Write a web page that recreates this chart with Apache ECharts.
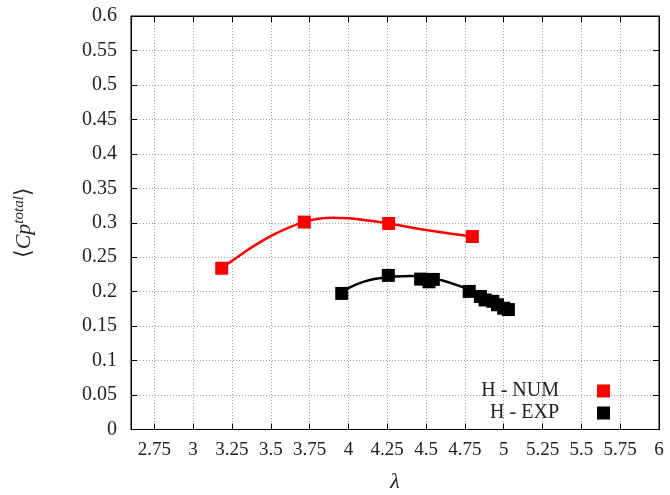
<!DOCTYPE html>
<html><head><meta charset="utf-8">
<script src="https://cdn.jsdelivr.net/npm/echarts@6/dist/echarts.min.js"></script>
<style>html,body{margin:0;padding:0;background:#fff}#c{width:670px;height:495px}</style>
</head><body><div id="c"></div>
<script>
// tick labels on the lambda axis
const xTicks = [2.75, 3, 3.25, 3.5, 3.75, 4, 4.25, 4.5, 4.75, 5, 5.25, 5.5, 5.75, 6];
// H - NUM markers
const numLambda = [3.184, 3.716, 4.259, 4.798];
const numCp = [0.234, 0.301, 0.299, 0.280];
// H - NUM fitted curve
const numFitLambda = [3.184, 3.3, 3.4, 3.5, 3.6, 3.716, 3.8, 3.9, 4.0, 4.1, 4.259, 4.5, 4.798];
const numFitCp = [0.234, 0.2525, 0.2675, 0.2805, 0.2915, 0.3013, 0.3055, 0.3072, 0.3065, 0.304, 0.299, 0.2895, 0.280];
// H - EXP markers
const expLambda = [3.957, 4.257, 4.465, 4.519, 4.547, 4.778, 4.85, 4.88, 4.93, 4.96, 5.0, 5.03];
const expCp = [0.1975, 0.2236, 0.2182, 0.2143, 0.2178, 0.2004, 0.193, 0.188, 0.186, 0.181, 0.176, 0.174];
// H - EXP fitted curve
const expFitLambda = [3.957, 4.0, 4.1, 4.2, 4.3, 4.4, 4.5, 4.6, 4.7, 4.8, 4.9, 5.03];
const expFitCp = [0.1975, 0.205, 0.2145, 0.2195, 0.222, 0.2226, 0.221, 0.2165, 0.2095, 0.201, 0.191, 0.175];

const FONT = 'Liberation Serif';
const TXT = '#222';
const zip = (a, b) => a.map((v, i) => [v, b[i]]);

const chart = echarts.init(document.getElementById('c'));
const gridLine = { show: true, lineStyle: { color: '#a0a0a0', type: [1, 2], width: 1 } };
chart.setOption({
  animation: false,
  backgroundColor: '#fff',
  grid: { left: 131, top: 16, right: 11, bottom: 65.5, containLabel: false, outerBoundsMode: 'none',
    show: true, borderColor: '#000', borderWidth: 1, backgroundColor: 'transparent' },
  legend: {
    orient: 'vertical', right: 55, top: 376, itemWidth: 13, itemHeight: 13, itemGap: 2, align: 'right',
    data: [{ name: 'H - NUM', icon: 'rect' }, { name: 'H - EXP', icon: 'rect' }],
    formatter: n => '{a|' + n + '}',
    textStyle: { fontFamily: FONT, fontSize: 20, color: TXT, rich: { a: { fontFamily: FONT, fontSize: 20, lineHeight: 20, color: TXT, width: 100, align: 'right', padding: [0, 33, 0, 0] } } }
  },
  xAxis: [{
    type: 'value', min: 2.6, max: 6, position: 'bottom',
    name: 'λ', nameLocation: 'middle', nameGap: 42,
    nameTextStyle: { fontFamily: FONT, fontSize: 22, fontStyle: 'italic', color: TXT },
    axisLine: { show: true, onZero: false, lineStyle: { color: '#000', width: 1 } },
    axisTick: { show: true, inside: true, length: 6, customValues: xTicks, lineStyle: { color: '#000' } },
    axisLabel: { customValues: xTicks, fontFamily: FONT, fontSize: 19, color: TXT, margin: 11 },
    splitLine: gridLine
  }, {
    type: 'value', min: 2.6, max: 6, position: 'top',
    axisLine: { show: true, onZero: false, lineStyle: { color: '#000', width: 1 } },
    axisTick: { show: true, inside: true, length: 6, customValues: xTicks, lineStyle: { color: '#000' } },
    axisLabel: { show: false }, splitLine: { show: false }
  }],
  yAxis: [{
    type: 'value', min: 0, max: 0.6, interval: 0.05, position: 'left',
    name: '{b|⟨}{i|Cp}{s|total}{b|⟩}', nameLocation: 'middle', nameGap: 94, nameRotate: 90,
    nameTextStyle: { color: TXT, rich: {
      b: { fontFamily: FONT, fontSize: 22, color: TXT },
      i: { fontFamily: FONT, fontSize: 22, fontStyle: 'italic', color: TXT },
      s: { fontFamily: FONT, fontSize: 15, fontStyle: 'italic', color: TXT, verticalAlign: 'top', padding: [0, 0, 10, 0] }
    } },
    axisLine: { show: true, onZero: false, lineStyle: { color: '#000', width: 1 } },
    axisTick: { show: true, inside: true, length: 6, lineStyle: { color: '#000' } },
    axisLabel: { fontFamily: FONT, fontSize: 20, color: TXT, margin: 14 },
    splitLine: gridLine
  }, {
    type: 'value', min: 0, max: 0.6, interval: 0.05, position: 'right',
    axisLine: { show: true, onZero: false, lineStyle: { color: '#000', width: 1 } },
    axisTick: { show: true, inside: true, length: 6, lineStyle: { color: '#000' } },
    axisLabel: { show: false }, splitLine: { show: false }
  }],
  series: [
    { name: 'H - NUM fit', type: 'line', smooth: true, showSymbol: false, data: zip(numFitLambda, numFitCp),
      lineStyle: { color: '#ff0000', width: 2.5 }, itemStyle: { color: '#ff0000' }, z: 2 },
    { name: 'H - EXP fit', type: 'line', smooth: true, showSymbol: false, data: zip(expFitLambda, expFitCp),
      lineStyle: { color: '#000', width: 2.5 }, itemStyle: { color: '#000' }, z: 2 },
    { name: 'H - NUM', type: 'scatter', symbol: 'rect', symbolSize: 13, data: zip(numLambda, numCp),
      itemStyle: { color: '#ff0000', opacity: 1 }, z: 3 },
    { name: 'H - EXP', type: 'scatter', symbol: 'rect', symbolSize: 13, data: zip(expLambda, expCp),
      itemStyle: { color: '#000', opacity: 1 }, z: 3 }
  ]
});
</script></body></html>
